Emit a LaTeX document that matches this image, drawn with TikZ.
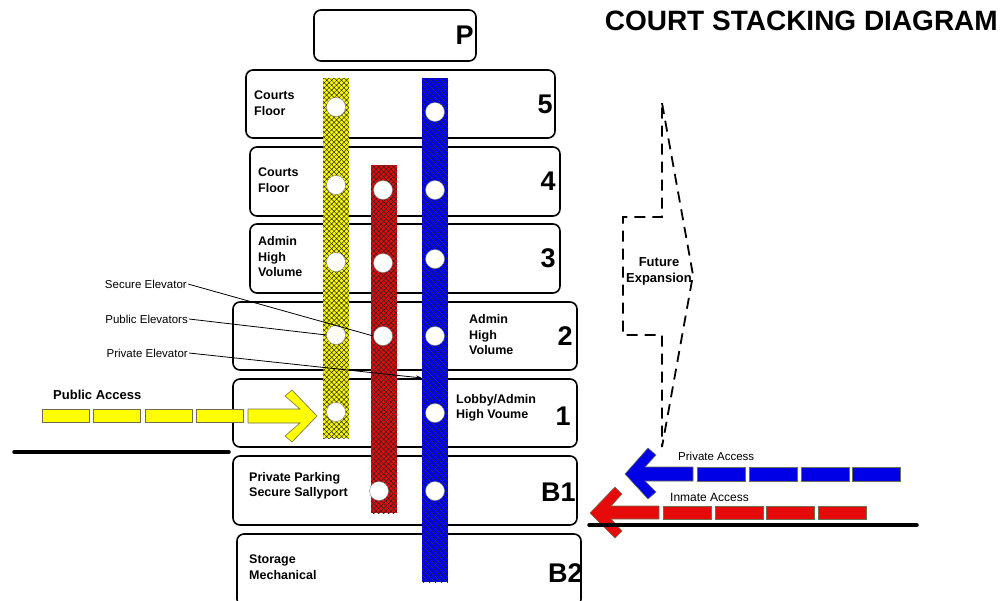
\documentclass[tikz,border=0pt]{standalone}
\usepackage{fontspec}
\setmainfont{Liberation Sans}
\usetikzlibrary{arrows.meta,positioning,patterns.meta}
\usepackage{xcolor}
\definecolor{shaftyellow}{HTML}{FFFF00}
\definecolor{shaftred}{HTML}{E60A0A}
\definecolor{shaftblue}{HTML}{0000E6}
\definecolor{baredge}{HTML}{6E6E50}

\begin{document}
\begin{tikzpicture}[
  x=1pt, y=-1pt,
  flr/.style={draw, line width=1.6pt, rounded corners=7pt, inner sep=0pt},
  lbl/.style={font=\fontsize{12.5}{15.5}\selectfont\bfseries, align=left, anchor=west, inner sep=0pt},
  num/.style={font=\fontsize{27}{27}\selectfont\bfseries, anchor=east, inner sep=0pt},
  shaft/.style={minimum width=26pt, inner sep=0pt},
  weave/.style={preaction={fill=#1}, pattern={Hatch[distance=3.5pt, angle=45, line width=0.5pt]}, pattern color=black!85},
  hatch/.style={preaction={fill=#1}, pattern={Lines[distance=4pt, angle=-45, line width=0.7pt]}, pattern color=black!80},
  stop/.style={circle, fill=white, draw=gray, line width=0.4pt, minimum size=19pt, inner sep=0pt},
  note/.style={font=\fontsize{11.5}{13}\selectfont, inner sep=1pt},
  lead/.style={line width=0.8pt},
  bar/.style={draw=baredge, line width=0.6pt},
  ground/.style={line width=3.5pt, line cap=round},
]
\useasboundingbox (0,0) rectangle (1006,600);

% title
\node[font=\fontsize{28}{28}\selectfont\bfseries, anchor=north east, inner sep=0pt] (title) at (998,11) {COURT STACKING DIAGRAM};

% floors
\node[flr, minimum width=162pt, minimum height=51pt] (fP) at (395,35.5) {};
\node[flr, minimum width=309pt, minimum height=68pt] (f5) at (400.5,104) {};
\node[flr, minimum width=310pt, minimum height=69pt] (f4) at (405,181.5) {};
\node[flr, minimum width=310pt, minimum height=69pt] (f3) at (405,258.5) {};
\node[flr, minimum width=344pt, minimum height=68pt] (f2) at (405,336) {};
\node[flr, minimum width=344pt, minimum height=68pt] (f1) at (405,413) {};
\node[flr, minimum width=344pt, minimum height=69pt] (fB1) at (405,490.5) {};
\node[flr, minimum width=344pt, minimum height=72pt] (fB2) at (409,570) {};

\node[num] at ([xshift=-3pt]fP.east) {P};
\node[num] at ([xshift=-3pt]f5.east) {5};
\node[num] at ([xshift=-5pt]f4.east) {4};
\node[num] at ([xshift=-5pt]f3.east) {3};
\node[num] at ([xshift=-5pt]f2.east) {2};
\node[num] at ([xshift=-7pt,yshift=-3pt]f1.east) {1};
\node[num] at ([xshift=-2pt,yshift=-2pt]fB1.east) {B1};
\node[num] at ([xshift=1pt,yshift=-3pt]fB2.east) {B2};

\node[lbl] at (254,103) {Courts\\Floor};
\node[lbl] at (258,180) {Courts\\Floor};
\node[lbl] at (258,257) {Admin\\High\\Volume};
\node[lbl] at (469,335) {Admin\\High\\Volume};
\node[lbl] at (456,408) {Lobby/Admin\\High Voume};
\node[lbl] at (249,486) {Private Parking\\Secure Sallyport};
\node[lbl] at (249,567) {Storage\\Mechanical};

% elevator shafts
\node[shaft, minimum height=360pt, weave=shaftyellow] (shY) at (336,258) {};
\node[shaft, minimum height=348pt, weave=shaftred] (shR) at (384,339) {};
\node[shaft, minimum height=504pt, hatch=shaftblue] (shB) at (435,330) {};

% stops
\foreach \n/\y in {1/107, 2/185, 3/262, 4/335, 5/412}
  \node[stop] (y\n) at (336,\y) {};
\foreach \n/\y in {1/190, 2/263, 3/336}
  \node[stop] (r\n) at (383,\y) {};
\node[stop] (r4) at (379,491) {};
\foreach \n/\y in {1/112, 2/190, 3/259, 4/336, 5/413, 6/491}
  \node[stop] (b\n) at (435,\y) {};

% elevator notes
\node[note, anchor=east] (lSec) at (188,284) {Secure Elevator};
\node[note, anchor=east] (lPub) at (189,319) {Public Elevators};
\node[note, anchor=east] (lPriv) at (189,353) {Private Elevator};
\coordinate (pB) at (422,378);
\draw[lead] (lSec.east) -- (r3.west);
\draw[lead] (lPub.east) -- (y4.west);
\draw[lead, -{Stealth[length=6pt,width=4pt]}] (lPriv.east) -- (pB);

% ground lines
\coordinate (gL1) at (14,452);
\coordinate (gL2) at (229,452);
\coordinate (gR1) at (589,525);
\coordinate (gR2) at (917,525);
\draw[ground] (gL1) -- (gL2);

% public access
\node[font=\fontsize{13}{13}\selectfont\bfseries, anchor=west, inner sep=0pt] (tPub) at (53,395) {Public Access};
\foreach \x in {42,93,145,196}
  \draw[bar, fill=shaftyellow] (\x,409) rectangle ++(47,13);
\draw[bar, fill=shaftyellow] (248,409) -- (300,409) -- (285,396) -- (292,390) -- (317,416)
  -- (292,442) -- (285,436) -- (300,423) -- (248,423) -- cycle;

% private access
\node[note, anchor=west] (tPriv) at (677,456) {Private Access};
\foreach \x in {697,749,801,852}
  \draw[bar, fill=shaftblue] (\x,467) rectangle ++(48,14);
\draw[bar, fill=shaftblue] (693,467) -- (645,467) -- (656,455) -- (648,448) -- (625,474)
  -- (648,499) -- (656,492) -- (645,481) -- (693,481) -- cycle;

% inmate access
\node[note, font=\fontsize{12}{13}\selectfont, anchor=west] (tInm) at (669,497) {Inmate Access};
\foreach \x in {663,715,766,818}
  \draw[bar, fill=shaftred] (\x,506) rectangle ++(48,13);
\draw[bar, fill=shaftred] (659,506) -- (611,506) -- (622,494) -- (615,487) -- (590,513)
  -- (615,538) -- (622,531) -- (611,519) -- (659,519) -- cycle;
\draw[ground] (gR1) -- (gR2);

% future expansion
\draw[line width=1.8pt, dash pattern=on 11pt off 7pt] (662,103) -- (693,275) -- (662,447)
  -- (662,335) -- (623,335) -- (623,217) -- (662,217) -- cycle;
\node[font=\fontsize{13}{16}\selectfont\bfseries, align=center, inner sep=0pt] (tFut) at (659,271) {Future\\Expansion};

\end{tikzpicture}
\end{document}
